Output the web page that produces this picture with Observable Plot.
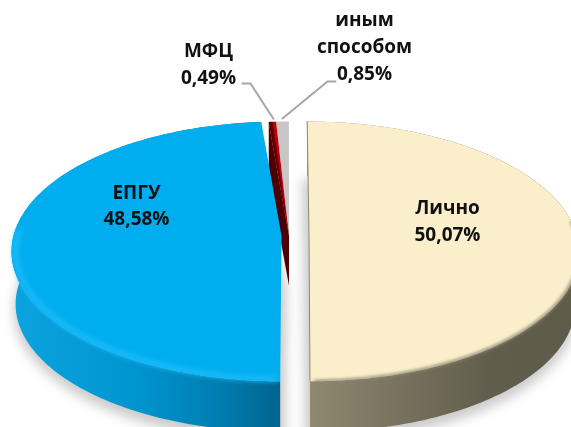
<!DOCTYPE html>
<html><head><meta charset="utf-8">
<script src="https://cdn.jsdelivr.net/npm/d3@7"></script>
<script src="https://cdn.jsdelivr.net/npm/@observablehq/plot@0.6"></script>
<style>html,body{margin:0;padding:0;background:#fff}svg{display:block;filter:blur(.35px)}</style>
</head><body><div id="chart"></div>
<script>
// Data, clockwise from the top of the pie
const categories = ["Лично", "ЕПГУ", "МФЦ", "иным способом"];
const shares = [50.07, 48.58, 0.49, 0.85];
const shareLabels = ["50,07%", "48,58%", "0,49%", "0,85%"];

// Layout only
const W = 571, H = 427, RX = 268, RY = 128, K = 0.12, DEPTH = 53, BASE = 0.985;
const CY = 235.3;
const slicePos = [{cx: 308.5, cy: CY, tilt: 0.016}, {cx: 281, cy: CY, tilt: 0}, {cx: 288.5, cy: CY, tilt: 0}, {cx: 288.5, cy: CY, tilt: 0}];
const labelLines = [["Лично"], ["ЕПГУ"], ["МФЦ"], ["иным", "способом"]];
const labelPos = [[447, 207, 27], [136, 192, 26], [208, 50, 27], [364, 19, 27]];

// Cumulative angles from the shares
let acc = 0;
const angles = shares.map(v => { const a0 = acc / 100 * 360; acc += v; return [a0, acc / 100 * 360]; });
const mid = i => (angles[i][0] + angles[i][1]) / 2;

function pt(i, deg, scale = 1, dy = 0, dx = 0) {
  const {cx, cy, tilt} = slicePos[i];
  const t = deg * Math.PI / 180, u = Math.sin(t), v = Math.cos(t), w = 1 + K * v;
  const y = -RY * scale * v / w;
  return {x: cx + dx + RX * scale * u / w + tilt * y, y: cy + y + dy};
}
const arc = (i, a, b, scale, dy, dx = 0) => {
  const n = Math.max(2, Math.ceil(Math.abs(b - a)));
  return d3.range(n + 1).map(k => pt(i, a + (b - a) * k / n, scale, dy, dx));
};
const apex = i => ({x: slicePos[i].cx, y: slicePos[i].cy});
const face = i => [apex(i), ...arc(i, angles[i][0], angles[i][1], 1, 0)];
const side = i => [...arc(i, angles[i][0], angles[i][1], 1, 0), ...arc(i, angles[i][1], angles[i][0], BASE, DEPTH)];
const shadow = (i, dx) => [{x: slicePos[i].cx + dx, y: slicePos[i].cy + DEPTH}, ...arc(i, angles[i][0], angles[i][1], 1.01, DEPTH + 6, dx)];
const wall = (i, deg) => { const p = pt(i, deg), a = apex(i);
  return [p, a, {x: a.x, y: a.y + DEPTH - 3}, {x: p.x, y: p.y + DEPTH}]; };

const common = {x: "x", y: "y"};
const poly = (d, o) => Plot.line(d, {...common, stroke: "none", ...o});
const rim = (d, o) => Plot.line(d, {...common, fill: "none", ...o});

const defs = () => {
  const s = d3.create("svg:defs");
  const g = (id, x1, x2, stops) => {
    const l = s.append("linearGradient").attr("id", id).attr("gradientUnits", "userSpaceOnUse")
      .attr("x1", x1).attr("x2", x2).attr("y1", 0).attr("y2", 0);
    stops.forEach(([o, c]) => l.append("stop").attr("offset", o).attr("stop-color", c));
  };
  g("blueSide", 12, 281, [[0, "#0ba3e0"], [0.45, "#0095d0"], [0.75, "#007fb3"], [1, "#00648f"]]);
  g("tanSide", 308, 571, [[0, "#8f8970"], [0.4, "#746f5b"], [0.7, "#615d4c"], [1, "#5f5b4a"]]);
  return s.node();
};

const labelRows = categories.flatMap((c, i) => [...labelLines[i], shareLabels[i]].map((t, k) => ({
  t, x: labelPos[i][0], y: labelPos[i][1] + k * labelPos[i][2]
})));

const leaderOf = (i, deg, fromX, elbowX, y) => {
  const end = pt(i, deg);
  return [{x: fromX, y}, {x: elbowX, y}, {x: end.x + (i === 2 ? 1 : 0), y: end.y - 3}];
};

const chart = Plot.plot({
  width: W, height: H, margin: 0,
  x: {domain: [0, W], range: [0, W], axis: null},
  y: {domain: [0, H], range: [0, H], axis: null},
  marks: [
    defs,
    // soft shadows below the slices, reaching into the gap
    poly(shadow(0, -5), {fill: "#808080", fillOpacity: 0.42, imageFilter: "blur(6px)"}),
    poly(shadow(1, 5), {fill: "#808080", fillOpacity: 0.42, imageFilter: "blur(6px)"}),
    // thin slices behind
    poly(face(3), {fill: "#c6c6c6"}),
    poly(wall(2, angles[2][0]), {fill: "#4d0004"}),
    poly(face(2), {fill: "#c00008"}),
    poly([pt(2, angles[2][0]), pt(2, mid(2)), apex(2)], {fill: "#5a0005"}),
    // sides
    poly(side(1), {fill: "url(#blueSide)"}),
    poly(side(0), {fill: "url(#tanSide)"}),
    // top faces
    poly(face(1), {fill: "#00aeef"}),
    poly(face(0), {fill: "#faeecb"}),
    // bevels
    rim(arc(1, angles[1][0] + 1, 272, 0.985, 0), {stroke: "#1dbcfb", strokeWidth: 5, imageFilter: "blur(2.5px)"}),
    rim(arc(0, 84, angles[0][1] - 1, 0.998, 0), {stroke: "#8d8872", strokeWidth: 2.5, imageFilter: "blur(1.5px)"}),
    rim([pt(0, 0), apex(0), pt(0, angles[0][1])], {stroke: "#8d8872", strokeWidth: 1}),
    // leaders
    Plot.line(leaderOf(2, mid(2), 242, 250, 83), {...common, stroke: "#a6a6a6", strokeWidth: 2}),
    Plot.line(leaderOf(3, mid(3), 335, 327, 81), {...common, stroke: "#a6a6a6", strokeWidth: 2}),
    // labels
    Plot.text(labelRows, {x: "x", y: "y", text: "t", fontFamily: "Open Sans", fontWeight: 700, fontSize: 19, fill: "#111"})
  ]
});
document.getElementById("chart").append(chart);
</script></body></html>
